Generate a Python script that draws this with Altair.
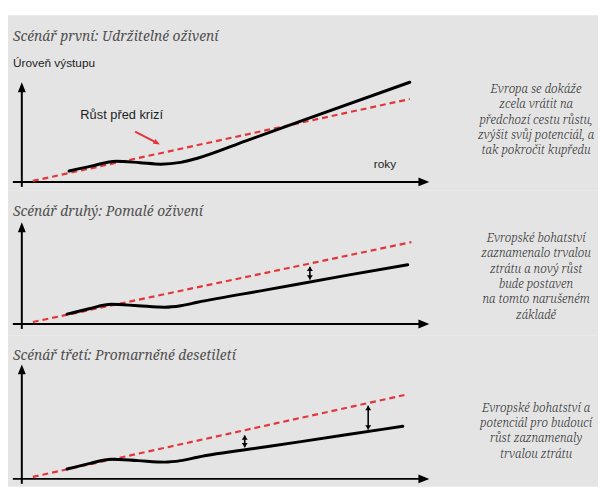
import altair as alt
import pandas as pd

# ---------------- data ----------------
TITLES = [
    "Scénář první: Udržitelné oživení",
    "Scénář druhý: Pomalé oživení",
    "Scénář třetí: Promarněné desetiletí",
]
Y_LABEL = "Úroveň výstupu"
X_LABEL = "roky"
TREND_LABEL = "Růst před krizí"
NOTES = [
    ["Evropa se dokáže", "zcela vrátit na", "předchozí cestu růstu,",
     "zvýšit svůj potenciál, a", "tak pokročit kupředu"],
    ["Evropské bohatství", "zaznamenalo trvalou", "ztrátu a nový růst",
     "bude postaven", "na tomto narušeném", "základě"],
    ["Evropské bohatství a", "potenciál pro budoucí", "růst zaznamenaly",
     "trvalou ztrátu"],
]

# actual output (black line): time index and output level
ACT_T = [
    [11.6, 17, 23.2, 29, 34.1, 39, 43.1, 55, 70, 95.2],
    [11.1, 16.5, 22.0, 28.5, 35.1, 39, 43.1, 60, 80, 94.7],
    [11.1, 16.5, 22.0, 28.5, 35.1, 39, 43.1, 60, 80, 93.5],
]
ACT_V = [
    [11, 16, 21, 19.5, 18, 19.8, 24, 41.6, 63.8, 101],
    [10, 15.5, 20, 18.5, 17, 18.5, 22, 34.6, 49.5, 60],
    [10, 15.5, 20, 18.5, 17, 18.5, 22, 32.5, 44.9, 53.3],
]
# pre-crisis trend (red dashed)
TREND_T = [[2.7, 95.2], [2.7, 95.6], [2.7, 93.9]]
TREND_V = [[1, 84], [2, 83], [2, 85]]
# gap arrows between trend and actual
GAP_T = [[], [70.7], [54.7, 85]]
GAP_LO = [[], [45], [32, 50]]
GAP_HI = [[], [58], [44, 74]]

# ---------------- layout ----------------
W = 598
HEIGHTS = [178, 147, 153]
YDOM = [(-9, 169), (-12, 135), (-8, 145)]
XDOM = (-3.39, 141.4)
XTIP = 100
YTIP = [101, 103, 116]
TITLE_V = [147, 113, 125]
LEFT_T = -2.18
NOTE_T = 126.2
NOTE_TOP = [94, 87, 72]
NOTE_STEP = 15.5
PX_PER_T = 4.13

RED = "#e2363c"
GRAY = "#e4e4e4"
SERIF = "Noto Serif"
SANS = "Liberation Sans"

UP_HEAD = "M0,0L0.8,2L-0.8,2Z"
RIGHT_HEAD = "M0,0L-2.2,-0.9L-2.2,0.9Z"
SMALL_UP = "M0,0L1.5,2.2L-1.5,2.2Z"
SMALL_DOWN = "M0,0L1.5,-2.2L-1.5,-2.2Z"


def build(i):
    xs = alt.Scale(domain=list(XDOM), nice=False, zero=False)
    ys = alt.Scale(domain=list(YDOM[i]), nice=False, zero=False)

    def X(f="t"):
        return alt.X(f"{f}:Q", scale=xs, axis=None)

    def Y(f="v"):
        return alt.Y(f"{f}:Q", scale=ys, axis=None)

    layers = []

    axes = pd.DataFrame({
        "t": [0, -2.2], "v": [-5, 0],
        "t2": [0, XTIP - 8 / PX_PER_T], "v2": [YTIP[i] - 8, 0],
    })
    layers.append(alt.Chart(axes).mark_rule(color="black", strokeWidth=2).encode(
        x=X(), y=Y(), x2="t2:Q", y2="v2:Q"))
    layers.append(alt.Chart(pd.DataFrame({"t": [0], "v": [YTIP[i]]})).mark_point(
        shape=UP_HEAD, size=100, filled=True, opacity=1, color="black").encode(x=X(), y=Y()))
    layers.append(alt.Chart(pd.DataFrame({"t": [XTIP], "v": [0]})).mark_point(
        shape=RIGHT_HEAD, size=100, filled=True, opacity=1, color="black").encode(x=X(), y=Y()))

    trend = pd.DataFrame({"t": TREND_T[i], "v": TREND_V[i]})
    layers.append(alt.Chart(trend).mark_line(color=RED, strokeWidth=2.2, strokeDash=[6, 4]).encode(
        x=X(), y=Y()))

    act = pd.DataFrame({"t": ACT_T[i], "v": ACT_V[i]})
    layers.append(alt.Chart(act).mark_line(color="black", strokeWidth=3, interpolate="monotone",
                                           strokeCap="round").encode(x=X(), y=Y()))

    if GAP_T[i]:
        gaps = pd.DataFrame({"t": GAP_T[i], "v": GAP_LO[i], "v2": GAP_HI[i]})
        layers.append(alt.Chart(gaps).mark_rule(color="black", strokeWidth=1.6).encode(
            x=X(), y=Y(), y2="v2:Q"))
        layers.append(alt.Chart(gaps).mark_point(shape=SMALL_UP, size=16, filled=True, opacity=1,
                                                 color="black").encode(x=X(), y=Y("v2")))
        layers.append(alt.Chart(gaps).mark_point(shape=SMALL_DOWN, size=16, filled=True, opacity=1,
                                                 color="black").encode(x=X(), y=Y("v")))

    title = pd.DataFrame({"t": [LEFT_T], "v": [TITLE_V[i]], "s": [TITLES[i]]})
    layers.append(alt.Chart(title).mark_text(
        align="left", baseline="middle", font=SERIF, fontStyle="italic", fontWeight=400,
        fontSize=14, color="#505050").encode(x=X(), y=Y(), text="s:N"))

    notes = pd.DataFrame({
        "t": [NOTE_T] * len(NOTES[i]),
        "v": [NOTE_TOP[i] - k * NOTE_STEP for k in range(len(NOTES[i]))],
        "s": NOTES[i],
    })
    layers.append(alt.Chart(notes).mark_text(
        align="center", baseline="middle", font=SERIF, fontStyle="italic", fontWeight=300,
        fontSize=12, color="#333333", clip=True).encode(x=X(), y=Y(), text="s:N"))

    if i == 0:
        lab = pd.DataFrame({"t": [LEFT_T], "v": [120], "s": [Y_LABEL]})
        layers.append(alt.Chart(lab).mark_text(
            align="left", baseline="middle", font=SANS, fontSize=12,
            color="#1e1e1e").encode(x=X(), y=Y(), text="s:N"))
        xl = pd.DataFrame({"t": [89.1], "v": [18], "s": [X_LABEL]})
        layers.append(alt.Chart(xl).mark_text(
            align="center", baseline="middle", font=SANS, fontSize=12,
            color="#1e1e1e").encode(x=X(), y=Y(), text="s:N"))
        tl = pd.DataFrame({"t": [24.5], "v": [68], "s": [TREND_LABEL]})
        layers.append(alt.Chart(tl).mark_text(
            align="center", baseline="middle", font=SANS, fontSize=13,
            color="#1e1e1e").encode(x=X(), y=Y(), text="s:N"))
        arr = pd.DataFrame({"t": [27.8], "v": [51], "t2": [33.4], "v2": [39]})
        layers.append(alt.Chart(arr).mark_rule(color=RED, strokeWidth=2).encode(
            x=X(), y=Y(), x2="t2:Q", y2="v2:Q"))
        layers.append(alt.Chart(pd.DataFrame({"t": [33.9], "v": [38]})).mark_point(
            shape="M0,0L0.9,2.2L-0.9,2.2Z", size=36, filled=True, opacity=1, color=RED,
            angle=117.6).encode(x=X(), y=Y()))

    return alt.layer(*layers).properties(width=W, height=HEIGHTS[i])


chart = alt.vconcat(*[build(i) for i in range(3)], spacing=0).properties(
    background="white",
    padding={"left": 0, "top": 4, "right": 0, "bottom": 0},
).configure_view(stroke=None, fill=GRAY)

chart.save("out.html", embed_options={"renderer": "svg", "actions": False})
